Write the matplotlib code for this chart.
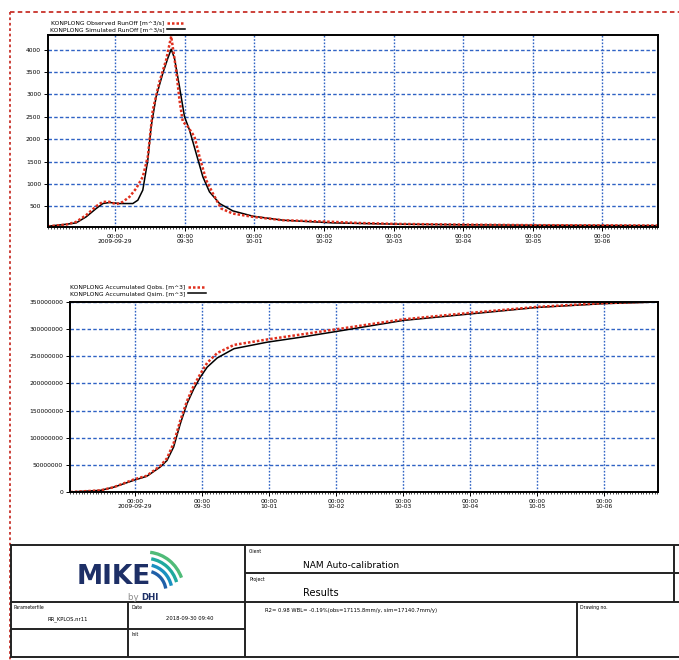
import numpy as np
import matplotlib
matplotlib.use("Agg")
import matplotlib.pyplot as plt
from matplotlib.patches import Arc

# time axis: days after 2009-09-29 00:00
tick_days = [0, 1, 2, 3, 4, 5, 6, 7]
tick_labels = ["00:00\n2009-09-29", "00:00\n09-30", "00:00\n10-01", "00:00\n10-02",
               "00:00\n10-03", "00:00\n10-04", "00:00\n10-05", "00:00\n10-06"]

# runoff [m^3/s]
days_sim = [-0.967, -0.70, -0.56, -0.417, -0.273, -0.177, -0.081, 0.062, 0.254, 0.326,
            0.397, 0.469, 0.517, 0.589, 0.685, 0.757, 0.805, 0.852, 0.924, 0.996,
            1.068, 1.164, 1.26, 1.355, 1.50, 1.69, 1.978, 2.41, 3.13, 3.5, 4.0, 5.0, 6.0, 7.8]
q_sim = [52, 97, 127, 262, 448, 560, 583, 560, 560, 635,
         860, 1532, 2280, 2952, 3475, 3812, 4013, 3812, 3176, 2504,
         2205, 1682, 1158, 822, 560, 396, 277, 187, 127, 115, 100, 85, 75, 65]

days_obs = [-0.967, -0.70, -0.56, -0.417, -0.273, -0.177, -0.081, 0.014, 0.11, 0.206,
            0.302, 0.397, 0.469, 0.541, 0.637, 0.733, 0.805, 0.876, 0.924, 0.972,
            1.044, 1.14, 1.212, 1.308, 1.404, 1.523, 1.69, 1.978, 2.41, 3.13, 3.5, 4.0, 5.0, 6.0, 7.8]
q_obs = [50, 90, 150, 300, 500, 598, 598, 545, 598, 710,
         897, 1158, 1607, 2653, 3289, 3774, 4300, 3550, 2877, 2391,
         2280, 2055, 1607, 1084, 785, 448, 336, 262, 187, 150, 125, 105, 88, 76, 68]

# accumulated volume [m^3]
days_acc = [-0.96, -0.51, -0.31, -0.015, 0.18, 0.38, 0.48, 0.58, 0.68, 0.78, 0.88, 0.98,
            1.08, 1.23, 1.48, 1.975, 2.47, 3.02, 4.0, 5.0, 6.0, 7.0, 7.8]
acc_sim = [0, 3e6, 9e6, 21.5e6, 29e6, 46e6, 58e6, 83e6, 126e6, 163e6, 190e6, 212e6,
           230e6, 247e6, 264e6, 276e6, 285e6, 296e6, 316e6, 328e6, 340e6, 347e6, 350e6]
acc_obs = [0, 3e6, 9e6, 23e6, 30e6, 48e6, 62e6, 90e6, 132e6, 168e6, 196e6, 218e6,
           238e6, 256e6, 271e6, 281e6, 290e6, 300e6, 318e6, 330e6, 341e6, 348e6, 351e6]

W, H = 679, 660
fig = plt.figure(figsize=(W / 100, H / 100), dpi=100)
fs = 4.3
grid_col = "#2f62c4"
red = "#e0301e"


def px_axes(l, t, r, b):
    return fig.add_axes([l / W, 1 - b / H, (r - l) / W, (b - t) / H])


def style(ax):
    ax.set_xlim(-0.965, 7.8)
    ax.set_xticks(tick_days)
    ax.set_xticklabels(tick_labels, fontsize=fs, linespacing=1.0)
    ax.set_xticks(np.arange(-0.958, 7.8, 1 / 24), minor=True)
    ax.tick_params(axis="both", which="major", length=3, width=0.7, labelsize=fs, pad=2)
    ax.tick_params(axis="x", which="minor", length=1.5, width=0.5)
    ax.xaxis.grid(True, color=grid_col, ls=(0, (1.2, 1.2)), lw=1.0)
    ax.yaxis.grid(True, color=grid_col, ls=(0, (2.5, 1.6)), lw=1.0)
    for s in ax.spines.values():
        s.set_linewidth(1.4)


ax1 = px_axes(48, 35, 658, 227)
ax1.plot(days_sim, q_sim, color="black", lw=1.1, label="KONPLONG Simulated RunOff [m^3/s]")
ax1.plot(days_obs, q_obs, color=red, lw=1.8, ls=(0, (1, 0.8)),
         label="KONPLONG Observed RunOff [m^3/s]")
ax1.set_ylim(35, 4330)
ax1.set_yticks(np.arange(500, 4001, 500))
style(ax1)
h, l = ax1.get_legend_handles_labels()
ax1.legend(h[::-1], l[::-1], loc="lower left", bbox_to_anchor=(-0.002, 1.0), frameon=False,
           markerfirst=False, fontsize=fs, handlelength=3, borderpad=0, labelspacing=0.2,
           handletextpad=0.4)

ax2 = px_axes(70, 302, 658, 492)
ax2.plot(days_acc, acc_sim, color="black", lw=1.1, label="KONPLONG Accumulated Qsim. [m^3]")
ax2.plot(days_acc, acc_obs, color=red, lw=1.8, ls=(0, (1, 0.8)),
         label="KONPLONG Accumulated Qobs. [m^3]")
ax2.set_ylim(0, 350e6)
ax2.set_yticks(np.arange(0, 350e6 + 1, 50e6))
ax2.set_yticklabels([f"{int(v)}" for v in np.arange(0, 350e6 + 1, 50e6)])
style(ax2)
h, l = ax2.get_legend_handles_labels()
ax2.legend(h[::-1], l[::-1], loc="lower left", bbox_to_anchor=(-0.005, 1.015), frameon=False,
           markerfirst=False, fontsize=fs, handlelength=3, borderpad=0, labelspacing=0.2,
           handletextpad=0.4)

# page overlay: border and title block, in pixel coordinates
ov = fig.add_axes([0, 0, 1, 1], zorder=-1)
ov.set_xlim(0, W)
ov.set_ylim(H, 0)
ov.axis("off")
ov.plot([10, W], [12, 12], color="#c8322a", lw=1.3, ls=(0, (2.5, 1.8)))
ov.plot([10, 10], [12, H], color="#c8322a", lw=1.3, ls=(0, (1.5, 1.5)))

segs = [((10, 545), (W, 545)), ((245, 573), (W, 573)), ((10, 602), (W, 602)),
        ((10, 629), (245, 629)), ((10, 657), (W, 657)), ((11, 545), (11, 657)),
        ((128, 602), (128, 657)), ((245, 545), (245, 657)), ((577, 602), (577, 657)),
        ((674, 545), (674, 602))]
for (x0, y0), (x1, y1) in segs:
    ov.plot([x0, x1], [y0, y1], color="#222222", lw=1.4, solid_capstyle="butt")

small = 3.3
ov.text(249, 549, "Client", fontsize=small, va="top")
ov.text(303, 566, "NAM Auto-calibration", fontsize=6.5, va="center")
ov.text(249, 577, "Project", fontsize=small, va="top")
ov.text(303, 593, "Results", fontsize=7, va="center")
ov.text(14, 605, "Parameterfile", fontsize=small, va="top")
ov.text(68, 619, "RR_KPLOS.nr11", fontsize=3.8, ha="center", va="center")
ov.text(131, 605, "Date", fontsize=small, va="top")
ov.text(190, 619, "2018-09-30 09:40", fontsize=3.8, ha="center", va="center")
ov.text(131, 632, "Init", fontsize=small, va="top")
ov.text(265, 608, "R2= 0.98 WBL= -0.19%(obs=17115.8mm/y, sim=17140.7mm/y)",
        fontsize=3.8, va="top")
ov.text(580, 605, "Drawing no.", fontsize=small, va="top")

# MIKE by DHI logo
ov.text(114, 577, "MIKE", fontsize=19, fontweight="bold", color="#1d2f66",
        ha="center", va="center", family="DejaVu Sans")
ov.text(141, 597.5, "by ", fontsize=6.2, color="#8a8a8a", ha="right", va="center")
ov.text(141, 597.5, "DHI", fontsize=6.2, color="#1d2f66", fontweight="bold", ha="left", va="center")
for i, c in enumerate(["#1f5fa8", "#1990c0", "#1fa99e", "#4fbb78"]):
    r = 20 + i * 6
    ov.add_patch(Arc((146, 592), 2 * r, 2 * r * 1.05, theta1=285 - i * 3, theta2=350 - i * 4,
                     color=c, lw=2.4))

fig.savefig("out.png", dpi=100)
